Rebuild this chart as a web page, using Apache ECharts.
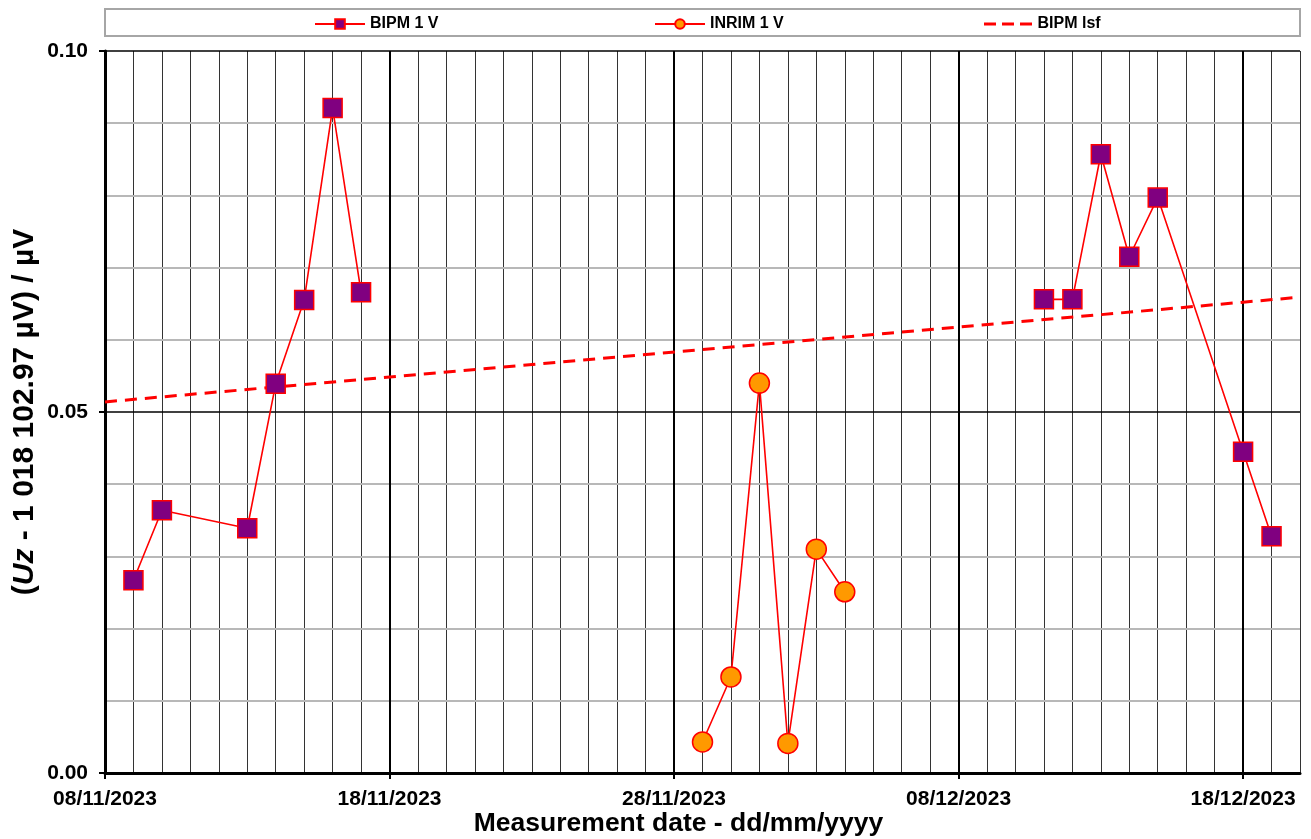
<!DOCTYPE html>
<html>
<head>
<meta charset="utf-8">
<script src="https://cdn.jsdelivr.net/npm/echarts@6/dist/echarts.min.js"></script>
<style>
  html, body { margin: 0; padding: 0; background: #fff; }
  #chart { width: 1311px; height: 839px; }
</style>
</head>
<body>
<div id="chart"></div>
<script>
// ---- data ----
// BIPM 1 V, first measurement run
const bipmDatesA = ['2023-11-09','2023-11-10','2023-11-13','2023-11-14','2023-11-15','2023-11-16','2023-11-17'];
const bipmValuesA = [0.0267,0.0364,0.0339,0.0539,0.0655,0.0921,0.0666];
// BIPM 1 V, second measurement run
const bipmDatesB = ['2023-12-11','2023-12-12','2023-12-13','2023-12-14','2023-12-15','2023-12-18','2023-12-19'];
const bipmValuesB = [0.0656,0.0656,0.0857,0.0715,0.0797,0.0445,0.0328];
// INRIM 1 V
const inrimDates = ['2023-11-29','2023-11-30','2023-12-01','2023-12-02','2023-12-03','2023-12-04'];
const inrimValues = [0.0043,0.0133,0.0540,0.0041,0.0310,0.0251];
// BIPM least-squares fit
const lsfDates = ['2023-11-08','2023-12-20'];
const lsfValues = [0.0514,0.0659];
// axes
const xTickDates = ['2023-11-08','2023-11-18','2023-11-28','2023-12-08','2023-12-18'];
const axisStartDate = '2023-11-08';
const axisEndDate = '2023-12-20';
const yTickLabels = ['0.00','0.05','0.10'];
const seriesNames = ['BIPM 1 V','INRIM 1 V','BIPM lsf'];

// ---- helpers ----
const DAY = 86400000;
function ts(s) { const p = s.split('-').map(Number); return Date.UTC(p[0], p[1] - 1, p[2]); }
const base = ts(axisStartDate);
function dayOf(s) { return Math.round((ts(s) - base) / DAY); }
function fmtDay(v) {
  const d = new Date(base + Math.round(v) * DAY);
  const dd = String(d.getUTCDate()).padStart(2, '0');
  const mm = String(d.getUTCMonth() + 1).padStart(2, '0');
  return dd + '/' + mm + '/' + d.getUTCFullYear();
}
function pairs(dates, vals) { return dates.map((d, i) => [dayOf(d), vals[i]]); }
const xMax = dayOf(axisEndDate);
const xTicks = xTickDates.map(dayOf);
const yMin = parseFloat(yTickLabels[0]);
const yMax = parseFloat(yTickLabels[yTickLabels.length - 1]);
const yStep = parseFloat(yTickLabels[1]) - yMin;

const FONT = '"Liberation Sans", Arial, sans-serif';

const chart = echarts.init(document.getElementById('chart'), null, { renderer: 'canvas' });
const legendCommon = {
  top: 11, itemWidth: 50, itemHeight: 12, itemGap: 6,
  textStyle: { fontFamily: FONT, fontWeight: 'bold', fontSize: 16, color: '#000' },
  selectedMode: false
};
const bipmStyle = {
  type: 'line', xAxisIndex: 0, z: 5, name: seriesNames[0],
  symbol: 'rect', symbolSize: 19,
  lineStyle: { color: '#ff0000', width: 1.6 },
  itemStyle: { color: '#800080', borderColor: '#ff0000', borderWidth: 1.5 }
};
chart.setOption({
  animation: false,
  backgroundColor: '#fff',
  graphic: [{
    type: 'rect', z: -1, silent: true,
    shape: { x: 105, y: 9, width: 1195, height: 27 },
    style: { fill: '#fff', stroke: '#a6a6a6', lineWidth: 2 }
  }],
  legend: [
    Object.assign({}, legendCommon, { left: 309, data: [seriesNames[0]] }),
    Object.assign({}, legendCommon, { left: 649, data: [seriesNames[1]] }),
    Object.assign({}, legendCommon, { left: 979, itemWidth: 49, itemHeight: 3,
      data: [{ name: seriesNames[2], icon: 'path://M0 0h12v3h-12z M18 0h12v3h-12z M36 0h12v3h-12z' }] })
  ],
  grid: { left: 105, right: 11, top: 51, bottom: 66, containLabel: false, outerBoundsMode: 'none' },
  xAxis: [{
    type: 'value', min: 0, max: xMax, interval: 10, position: 'bottom', z: 3,
    name: 'Measurement date - dd/mm/yyyy', nameLocation: 'middle', nameGap: 37, nameMoveOverlap: false,
    nameTextStyle: { fontFamily: FONT, fontWeight: 'bold', fontSize: 26.5, color: '#000', padding: [0, 48, 0, 0] },
    axisLine: { show: true, onZero: false, lineStyle: { color: '#000', width: 3 } },
    axisTick: { show: true, inside: false, length: 6, customValues: xTicks, lineStyle: { color: '#000', width: 2 } },
    axisLabel: { customValues: xTicks, formatter: fmtDay, margin: 16, fontFamily: FONT, fontWeight: 'bold', fontSize: 21, color: '#000' },
    splitLine: { show: true, lineStyle: { color: '#000', width: 2 } }
  }, {
    type: 'value', min: 0, max: xMax, interval: 1, position: 'top', z: 1,
    axisLine: { show: false }, axisTick: { show: false }, axisLabel: { show: false },
    splitLine: { show: true, lineStyle: { color: '#333', width: 1 } }
  }],
  yAxis: {
    type: 'value', min: yMin, max: yMax, interval: yStep, z: 2,
    name: '({i|Uz} - 1 018 102.97 µV) / µV', nameLocation: 'middle', nameGap: 65, nameRotate: 90, nameMoveOverlap: false,
    nameTextStyle: {
      fontFamily: FONT, fontWeight: 'bold', fontSize: 30, color: '#000',
      rich: { i: { fontFamily: FONT, fontWeight: 'bold', fontStyle: 'italic', fontSize: 30, color: '#000' } }
    },
    axisLine: { show: true, lineStyle: { color: '#000', width: 3 } },
    axisTick: { show: true, inside: false, length: 6, lineStyle: { color: '#000', width: 2 } },
    axisLabel: { formatter: v => v.toFixed(2), margin: 17, fontFamily: FONT, fontWeight: 'bold', fontSize: 21, color: '#000' },
    splitLine: { show: true, lineStyle: { color: '#000', width: 1.5 } },
    minorTick: { show: false, splitNumber: 5 },
    minorSplitLine: { show: true, lineStyle: { color: '#b8b8b8', width: 2 } }
  },
  series: [
    Object.assign({}, bipmStyle, { data: pairs(bipmDatesA, bipmValuesA) }),
    Object.assign({}, bipmStyle, { data: pairs(bipmDatesB, bipmValuesB) }),
    {
      name: seriesNames[1], type: 'line', xAxisIndex: 0, z: 5,
      data: pairs(inrimDates, inrimValues),
      symbol: 'circle', symbolSize: 20,
      lineStyle: { color: '#ff0000', width: 1.6 },
      itemStyle: { color: '#ff9900', borderColor: '#ff0000', borderWidth: 1.5 }
    }, {
      name: seriesNames[2], type: 'line', xAxisIndex: 0, z: 4,
      data: pairs(lsfDates, lsfValues),
      symbol: 'none',
      lineStyle: { color: '#ff0000', width: 3, type: [12, 8] },
      itemStyle: { color: '#ff0000' }
    }
  ]
});
</script>
</body>
</html>
